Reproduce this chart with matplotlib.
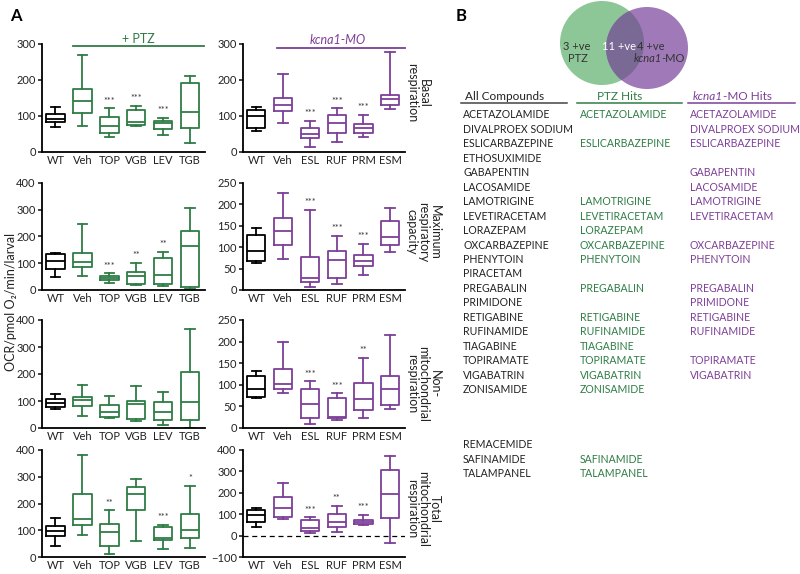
import matplotlib
matplotlib.use("Agg")
import matplotlib.pyplot as plt
from matplotlib.patches import Circle

plt.rcParams['font.family'] = ['Lato', 'DejaVu Sans']

GREEN = "#2e7d45"
PURPLE = "#7d3f98"
DARK = "#222222"

ptz_groups = ["WT", "Veh", "TOP", "VGB", "LEV", "TGB"]
mo_groups = ["WT", "Veh", "ESL", "RUF", "PRM", "ESM"]

# whisker low, q1, median, q3, whisker high
basal_ptz = [[70, 83, 93, 106, 124], [73, 107, 141, 176, 269], [43, 54, 72, 98, 121],
             [72, 74, 83, 118, 128], [47, 63, 81, 85, 94], [26, 67, 112, 191, 210]]
basal_mo = [[58, 68, 100, 118, 124], [80, 115, 131, 151, 218], [13, 39, 49, 67, 87],
            [29, 54, 80, 103, 121], [43, 52, 66, 77, 104], [120, 131, 147, 158, 277]]
maxcap_ptz = [[50, 80, 109, 133, 137], [52, 87, 106, 137, 246], [25, 36, 46, 52, 62],
              [17, 22, 52, 66, 102], [15, 22, 57, 118, 142], [4, 12, 166, 222, 307]]
maxcap_mo = [[64, 68, 91, 128, 144], [73, 106, 139, 169, 227], [8, 19, 27, 77, 187],
             [13, 27, 71, 92, 127], [34, 57, 68, 81, 108], [89, 104, 124, 162, 192]]
nonmito_ptz = [[69, 76, 92, 106, 127], [45, 82, 105, 113, 160], [38, 40, 61, 86, 120],
               [27, 35, 88, 100, 155], [12, 29, 61, 97, 133], [1, 31, 95, 208, 365]]
nonmito_mo = [[70, 71, 91, 120, 133], [82, 91, 101, 137, 200], [9, 24, 56, 91, 108],
              [19, 22, 25, 69, 80], [24, 41, 67, 104, 163], [44, 53, 91, 121, 216]]
total_ptz = [[41, 80, 99, 117, 144], [84, 118, 142, 236, 380], [10, 40, 93, 123, 175],
             [61, 176, 235, 262, 291], [31, 65, 70, 111, 120], [34, 72, 102, 161, 265]]
total_mo = [[42, 64, 96, 120, 129], [78, 87, 129, 182, 244], [14, 23, 36, 75, 85],
            [19, 42, 65, 102, 140], [48, 53, 62, 71, 98], [-34, 82, 193, 306, 370]]

basal_ptz_sig = ["", "", "***", "***", "***", ""]
basal_mo_sig = ["", "", "***", "***", "***", ""]
maxcap_ptz_sig = ["", "", "***", "**", "**", ""]
maxcap_mo_sig = ["", "", "***", "***", "***", ""]
nonmito_ptz_sig = ["", "", "", "", "", ""]
nonmito_mo_sig = ["", "", "***", "***", "**", ""]
total_ptz_sig = ["", "", "**", "", "***", "*"]
total_mo_sig = ["", "", "***", "**", "***", ""]

row_titles = ["Basal\nrespiration", "Maximum\nrespiratory\ncapacity",
              "Non-\nmitochondrial\nrespiration", "Total\nmitochondrial\nrespiration"]

all_compounds = ["ACETAZOLAMIDE", "DIVALPROEX SODIUM", "ESLICARBAZEPINE", "ETHOSUXIMIDE",
                 "GABAPENTIN", "LACOSAMIDE", "LAMOTRIGINE", "LEVETIRACETAM", "LORAZEPAM",
                 "OXCARBAZEPINE", "PHENYTOIN", "PIRACETAM", "PREGABALIN", "PRIMIDONE",
                 "RETIGABINE", "RUFINAMIDE", "TIAGABINE", "TOPIRAMATE", "VIGABATRIN",
                 "ZONISAMIDE"]
ptz_hits = ["ACETAZOLAMIDE", "", "ESLICARBAZEPINE", "", "", "", "LAMOTRIGINE",
            "LEVETIRACETAM", "LORAZEPAM", "OXCARBAZEPINE", "PHENYTOIN", "", "PREGABALIN",
            "", "RETIGABINE", "RUFINAMIDE", "TIAGABINE", "TOPIRAMATE", "VIGABATRIN",
            "ZONISAMIDE"]
mo_hits = ["ACETAZOLAMIDE", "DIVALPROEX SODIUM", "ESLICARBAZEPINE", "", "GABAPENTIN",
           "LACOSAMIDE", "LAMOTRIGINE", "LEVETIRACETAM", "", "OXCARBAZEPINE", "PHENYTOIN",
           "", "PREGABALIN", "PRIMIDONE", "RETIGABINE", "RUFINAMIDE", "", "TOPIRAMATE",
           "VIGABATRIN", ""]
extra_compounds = ["REMACEMIDE", "SAFINAMIDE", "TALAMPANEL"]
extra_ptz_hits = ["", "SAFINAMIDE", "TALAMPANEL"]

W, H = 800, 574
fig = plt.figure(figsize=(W / 100, H / 100), dpi=100)

col_x = [(42, 205), (243, 405)]
row_y = [(44, 152), (183, 290), (320, 428), (450, 557)]

panels = [
    (0, 0, basal_ptz, basal_ptz_sig, (0, 300), [0, 100, 200, 300]),
    (0, 1, basal_mo, basal_mo_sig, (0, 300), [0, 100, 200, 300]),
    (1, 0, maxcap_ptz, maxcap_ptz_sig, (0, 400), [0, 100, 200, 300, 400]),
    (1, 1, maxcap_mo, maxcap_mo_sig, (0, 250), [0, 50, 100, 150, 200, 250]),
    (2, 0, nonmito_ptz, nonmito_ptz_sig, (0, 400), [0, 100, 200, 300, 400]),
    (2, 1, nonmito_mo, nonmito_mo_sig, (0, 250), [0, 50, 100, 150, 200, 250]),
    (3, 0, total_ptz, total_ptz_sig, (0, 400), [0, 100, 200, 300, 400]),
    (3, 1, total_mo, total_mo_sig, (-100, 400), [-100, 0, 100, 200, 300, 400]),
]

for r, c, data, sig, ylim, yticks in panels:
    x0, x1 = col_x[c]
    y0, y1 = row_y[r]
    ax = fig.add_axes([x0 / W, 1 - y1 / H, (x1 - x0) / W, (y1 - y0) / H])
    stats = [dict(whislo=d[0], q1=d[1], med=d[2], q3=d[3], whishi=d[4], fliers=[])
             for d in data]
    art = ax.bxp(stats, positions=range(6), widths=0.68, capwidths=0.36,
                 showfliers=False, patch_artist=False)
    col = GREEN if c == 0 else PURPLE
    for i in range(6):
        cc = "black" if i == 0 else col
        art['boxes'][i].set(color=cc, linewidth=1.3)
        art['medians'][i].set(color=cc, linewidth=1.3)
        for k in (2 * i, 2 * i + 1):
            art['whiskers'][k].set(color=cc, linewidth=1.3)
            art['caps'][k].set(color=cc, linewidth=1.3)
    span = ylim[1] - ylim[0]
    for i, s in enumerate(sig):
        if s:
            ax.text(i, data[i][4] + span * 0.025, s, ha='center', va='bottom',
                    fontsize=6.5, color="#333333")
    if r == 3 and c == 1:
        ax.axhline(0, color="black", lw=0.9, ls=(0, (4, 3)), zorder=0)
    ax.set_xlim(-0.5, 5.55)
    ax.set_ylim(*ylim)
    ax.set_yticks(yticks)
    ax.set_xticks(range(6))
    ax.set_xticklabels(ptz_groups if c == 0 else mo_groups)
    for sp in ("top", "right"):
        ax.spines[sp].set_visible(False)
    for sp in ("left", "bottom"):
        ax.spines[sp].set_linewidth(1.3)
    ax.tick_params(axis='y', length=3, width=1.2, labelsize=8, pad=1.5, colors=DARK)
    ax.tick_params(axis='x', length=0, labelsize=8, pad=2, colors=DARK)
    ax.patch.set_alpha(0)

# overlay in pixel coordinates for annotations
ov = fig.add_axes([0, 0, 1, 1])
ov.set_xlim(0, W)
ov.set_ylim(H, 0)
ov.axis("off")
ov.patch.set_alpha(0)
renderer = fig.canvas.get_renderer()


def mixed_text(x, y, parts, ha='left', **kw):
    # parts: list of (string, fontstyle); laid out side by side
    texts = [ov.text(0, y, s, style=st, ha='left', va='center', **kw) for s, st in parts]
    widths = [t.get_window_extent(renderer).width for t in texts]
    start = x - sum(widths) / 2 if ha == 'center' else x
    for t, w in zip(texts, widths):
        t.set_x(start)
        start += w


ov.text(10, 16, "A", fontsize=12, fontweight='bold', va='center', ha='left')
ov.text(456, 16, "B", fontsize=12, fontweight='bold', va='center', ha='left')

ov.plot([73, 204], [46, 46], color=GREEN, lw=1.3)
ov.text(138, 39, "+ PTZ", color=GREEN, fontsize=9, ha='center', va='center')
ov.plot([277, 405], [48, 48], color=PURPLE, lw=1.3)
ov.text(338, 40, "kcna1-MO", color=PURPLE, fontsize=9, style='italic',
        ha='center', va='center')

ov.text(11, 302, "OCR/pmol O\u2082/min/larval", rotation=90, fontsize=9,
        ha='center', va='center', color=DARK)

title_y = [93, 232, 384, 509]
for t, yy in zip(row_titles, title_y):
    ov.text(406, yy, t, rotation=270, fontsize=9, ha='left', va='center',
            multialignment='center', linespacing=0.95, color=DARK)

# Venn diagram
g = Circle((602, 43), 42, facecolor="#8dc797", edgecolor="none")
p = Circle((647, 48), 41, facecolor="#a07ab8", edgecolor="none")
ov.add_patch(g)
ov.add_patch(p)
inter = Circle((647, 48), 41, facecolor="#7a6895", edgecolor="none")
ov.add_patch(inter)
inter.set_clip_path(g)
ov.text(577, 47, "3 +ve", fontsize=8, ha='center', va='center', color="#333333")
ov.text(578, 58, "PTZ", fontsize=8, ha='center', va='center', color="#333333")
ov.text(619, 47, "11 +ve", fontsize=8, ha='center', va='center', color="white")
ov.text(651, 47, "4 +ve", fontsize=8, ha='center', va='center', color="#333333")
mixed_text(659, 58, [("kcna1", 'italic'), ("-MO", 'normal')], ha='center',
           fontsize=8, color="#333333")

# compound table
ov.text(465, 97, "All Compounds", fontsize=8.5, ha='left', va='center', color=DARK)
ov.plot([461, 567], [103, 103], color="#444444", lw=1.1)
ov.text(620, 97, "PTZ Hits", fontsize=8.5, ha='center', va='center', color=GREEN)
ov.plot([577, 682], [103, 103], color=GREEN, lw=1.1)
mixed_text(693, 97, [("kcna1", 'italic'), ("-MO Hits", 'normal')],
           fontsize=8.5, color=PURPLE)
ov.plot([688, 795], [103, 103], color=PURPLE, lw=1.1)

step = 14.45
fs = 7.6
for i, name in enumerate(all_compounds):
    y = 115 + i * step
    ov.text(463, y, name, fontsize=fs, ha='left', va='center', color=DARK)
    if ptz_hits[i]:
        ov.text(580, y, ptz_hits[i], fontsize=fs, ha='left', va='center', color=GREEN)
    if mo_hits[i]:
        ov.text(690, y, mo_hits[i], fontsize=fs, ha='left', va='center', color=PURPLE)
for i, name in enumerate(extra_compounds):
    y = 445 + i * step
    ov.text(463, y, name, fontsize=fs, ha='left', va='center', color=DARK)
    if extra_ptz_hits[i]:
        ov.text(580, y, extra_ptz_hits[i], fontsize=fs, ha='left', va='center', color=GREEN)

fig.savefig("out.png", dpi=100)
